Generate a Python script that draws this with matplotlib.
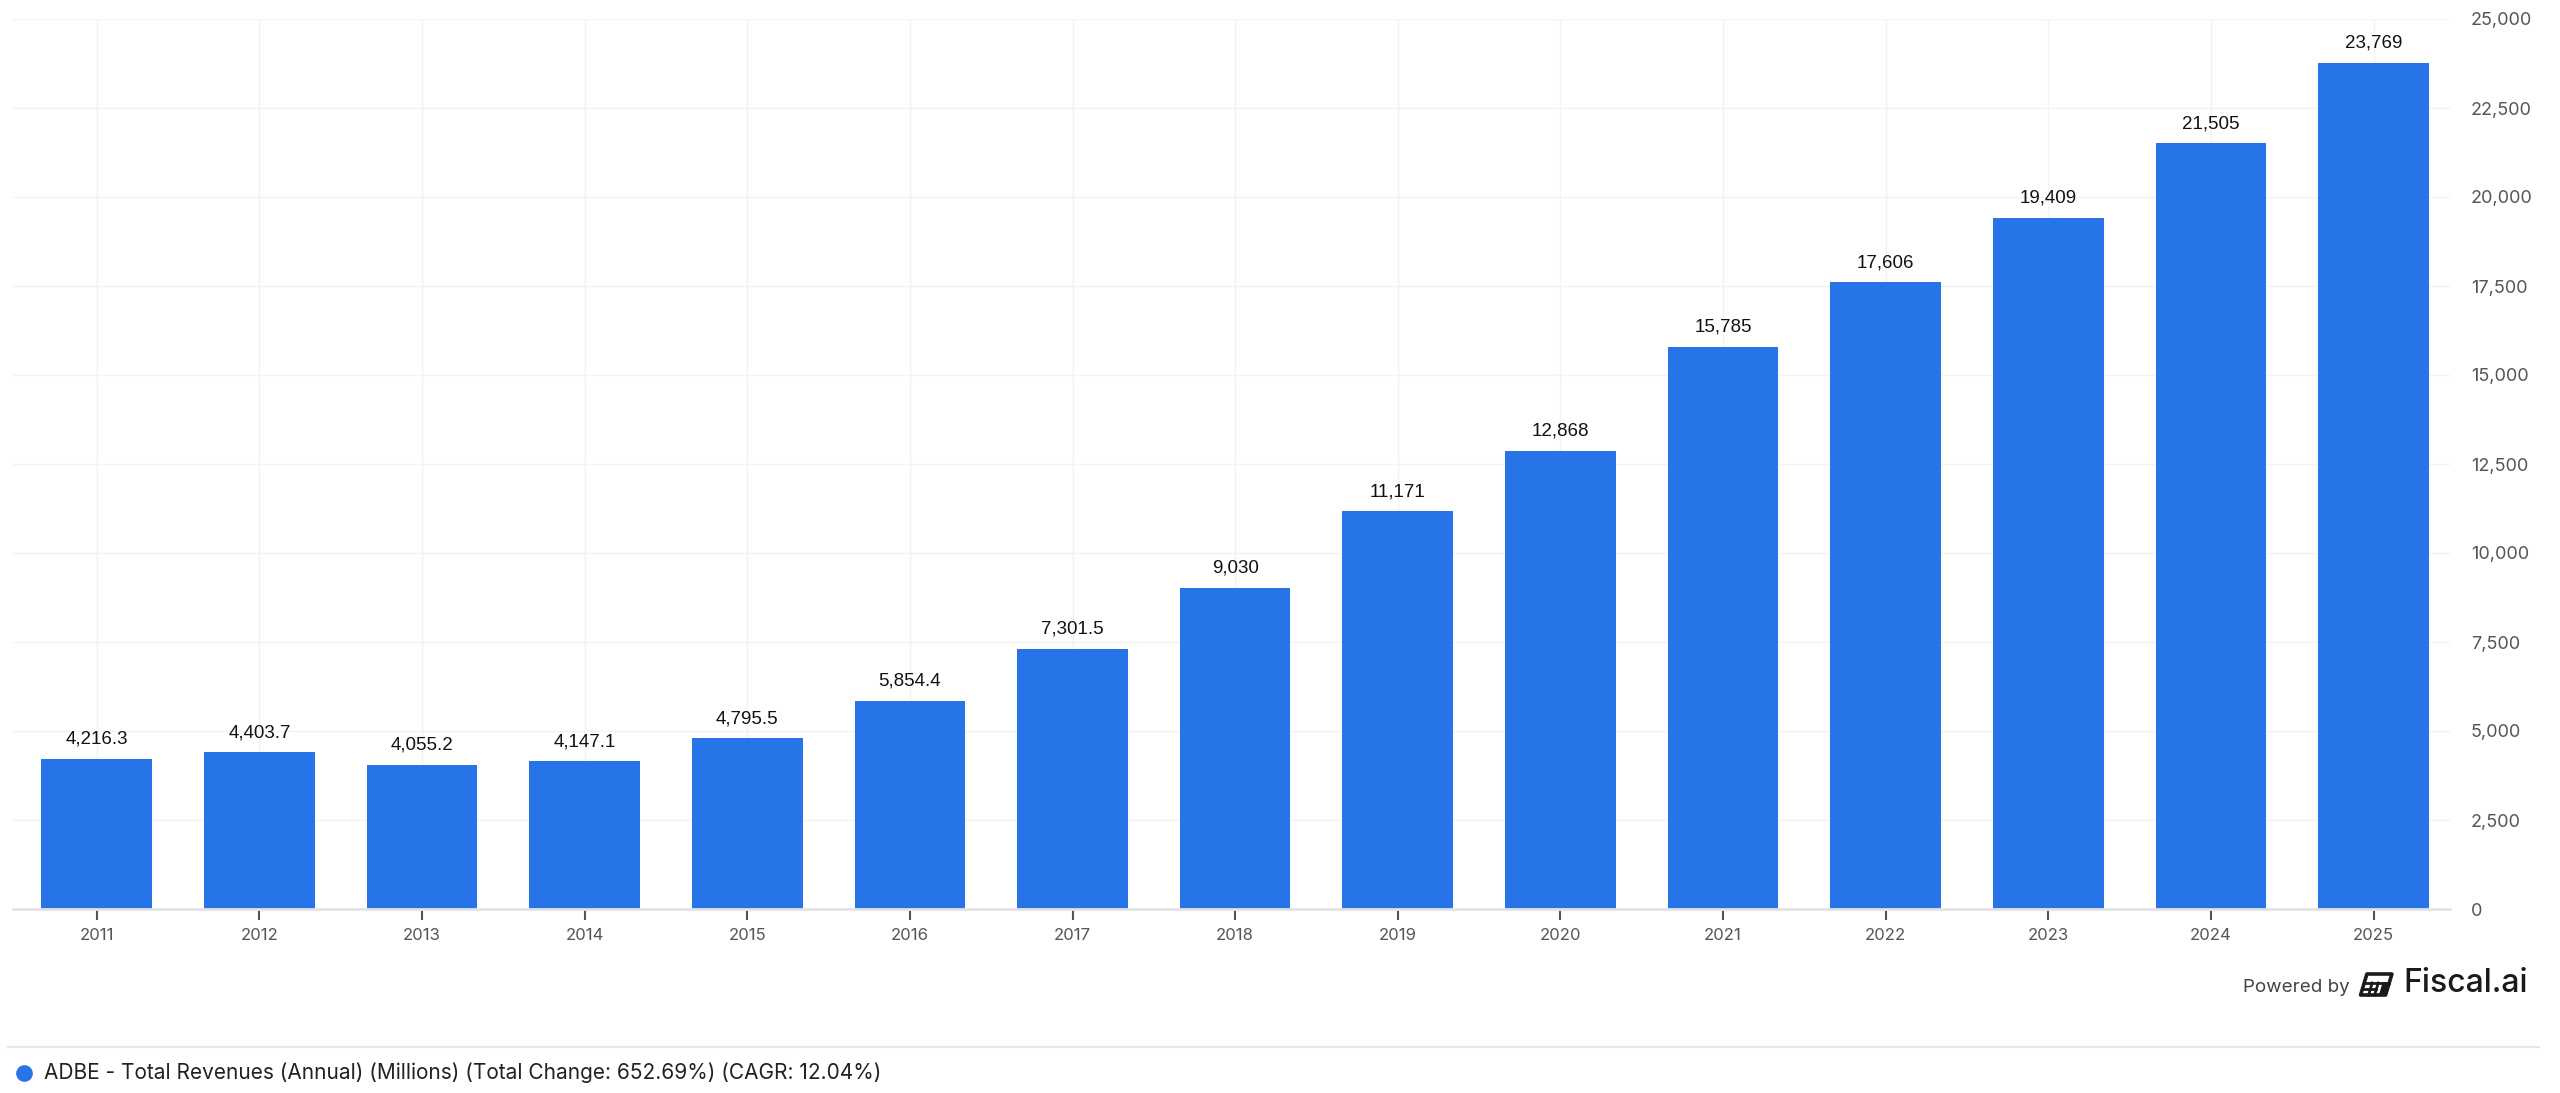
import matplotlib
matplotlib.use("Agg")
import matplotlib.pyplot as plt
from matplotlib.patches import Polygon
from matplotlib.lines import Line2D

years = ["2011", "2012", "2013", "2014", "2015", "2016", "2017", "2018",
         "2019", "2020", "2021", "2022", "2023", "2024", "2025"]
revenues = [4216.3, 4403.7, 4055.2, 4147.1, 4795.5, 5854.4, 7301.5, 9030,
            11171, 12868, 15785, 17606, 19409, 21505, 23769]
y_ticks = [0, 2500, 5000, 7500, 10000, 12500, 15000, 17500, 20000, 22500, 25000]
legend_text = "ADBE - Total Revenues (Annual) (Millions) (Total Change: 652.69%) (CAGR: 12.04%)"

BAR = "#2773E8"

def fmt(v):
    s = f"{v:,.1f}"
    if s.endswith(".0"):
        s = s[:-2]
    return s

fig = plt.figure(figsize=(25.6, 10.93), dpi=100)
ax = fig.add_axes([13/2560, 1 - 909/1093, (2450 - 13)/2560, (909 - 19)/1093])

x = list(range(len(years)))
ax.bar(x, revenues, width=0.68, color=BAR, zorder=3)

for xi, v in zip(x, revenues):
    ax.annotate(fmt(v), (xi, v), xytext=(0, 8), textcoords="offset points",
                ha="center", va="bottom", fontsize=13.5, color="#111111",
                family=["Liberation Sans", "DejaVu Sans"], zorder=4)

ax.set_xlim(-0.515, 14.47)
ax.set_ylim(0, 25000)
ax.set_xticks(x)
ax.set_xticklabels(years, family=["Inter", "DejaVu Sans"], fontsize=12, color="#555555")
ax.set_yticks(y_ticks)
ax.set_yticklabels([f"{t:,}" for t in y_ticks], family=["Inter", "DejaVu Sans"],
                   fontsize=13, color="#555555")
ax.yaxis.tick_right()
ax.tick_params(axis="y", length=0, pad=15)
ax.tick_params(axis="x", length=8, width=1.5, color="#555555", pad=6)
for lab in ax.get_yticklabels():
    lab.set_horizontalalignment("left")

for s in ["top", "right", "left"]:
    ax.spines[s].set_visible(False)
ax.spines["bottom"].set_color("#e3e3e6")
ax.spines["bottom"].set_linewidth(2)
ax.spines["bottom"].set_zorder(5)

ax.grid(True, axis="both", color="#f2f3f7", linewidth=1, zorder=0)
ax.set_axisbelow(True)

# Powered by Fiscal.ai
fig.text(2350/2560, 1 - 987/1093, "Powered by", ha="right", va="center",
         fontsize=13.5, color="#444444", family=["Inter", "DejaVu Sans"])

# icon: slanted panel
icon_ax = fig.add_axes([2358/2560, 1 - 997/1093, 36/2560, 26/1093])
icon_ax.set_xlim(0, 36); icon_ax.set_ylim(0, 26); icon_ax.axis("off")
def sh(px, py):
    return (px + 0.3 * py, py)
K = "#1a1a1a"
outer = [sh(2, 2), sh(27, 2), sh(27, 23), sh(2, 23)]
icon_ax.add_patch(Polygon(outer, closed=True, fill=False, ec=K, lw=2.6, joinstyle="round"))
icon_ax.add_patch(Polygon([sh(21, 2), sh(27, 2), sh(27, 14), sh(21, 14)],
                          closed=True, fc=K, ec=K, lw=1))
for (a, b) in [((2, 14), (27, 14)), ((10, 2), (10, 14)), ((16, 2), (16, 14)),
               ((2, 8), (16, 8))]:
    p, q = sh(*a), sh(*b)
    icon_ax.add_line(Line2D([p[0], q[0]], [p[1], q[1]], color=K, lw=2))

fig.text(2528/2560, 1 - 984/1093, "Fiscal.ai", ha="right", va="center",
         fontsize=23, color="#1a1a1a", family=["Inter", "DejaVu Sans"], weight="medium")

# separator line
fig.add_artist(Line2D([8/2560, 2539/2560], [1 - 1047/1093, 1 - 1047/1093],
                      color="#e6e6e9", lw=1.5, transform=fig.transFigure))

# legend
fig.add_artist(Line2D([24/2560], [1 - 1073/1093], marker="o", markersize=11,
                      color=BAR, linestyle="none", transform=fig.transFigure))
fig.text(44/2560, 1 - 1073/1093, legend_text, ha="left", va="center",
         fontsize=15, color="#222222", family=["Inter", "DejaVu Sans"])

fig.savefig("out.png", dpi=100, facecolor="white")
